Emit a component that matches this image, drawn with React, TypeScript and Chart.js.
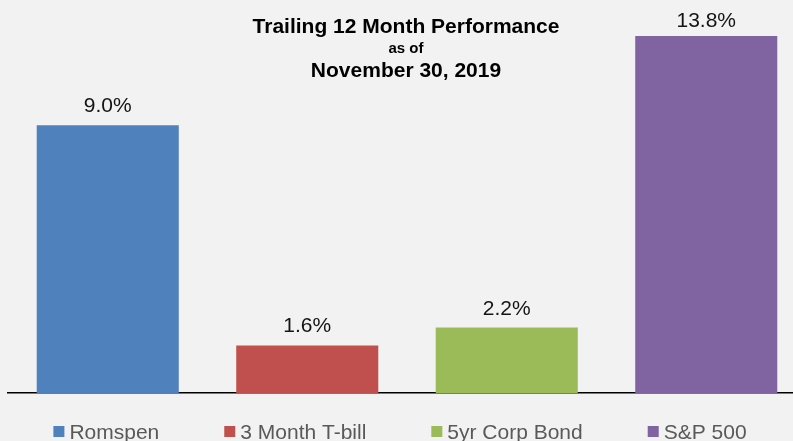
import React, { useEffect, useRef } from "react";
import { Chart, registerables } from "chart.js";

Chart.register(...registerables);

const categories = ["Romspen", "3 Month T-bill", "5yr Corp Bond", "S&P 500"];
const values = [9.0, 1.6, 2.2, 13.8];
const valueLabels = ["9.0%", "1.6%", "2.2%", "13.8%"];
const barColors = ["#4f81bd", "#c0504d", "#9bbb59", "#8064a2"];
const titleLines = ["Trailing 12 Month Performance", "as of", "November 30, 2019"];
const yMin = 0;
const yMax = 12;

const FONT = "'Liberation Sans', Arial, Helvetica, sans-serif";

const overlayPlugin = {
  id: "overlay",
  afterDatasetsDraw(chart: any) {
    const ctx = chart.ctx;
    const area = chart.chartArea;
    const meta = chart.getDatasetMeta(0);
    ctx.save();
    // value labels
    ctx.font = `21px ${FONT}`;
    ctx.fillStyle = "#141414";
    ctx.textAlign = "center";
    ctx.textBaseline = "alphabetic";
    meta.data.forEach((bar: any, i: number) => {
      const clipped = bar.y < area.top;
      const top = Math.max(bar.y, area.top);
      const off = clipped ? 9 : 13;
      ctx.fillText(valueLabels[i], bar.x, top - off);
    });
    // title
    const cx = (area.left + area.right) / 2 - 1;
    ctx.fillStyle = "#000";
    ctx.font = `bold 21px ${FONT}`;
    ctx.fillText(titleLines[0], cx, 33);
    ctx.font = `bold 15px ${FONT}`;
    ctx.fillText(titleLines[1], cx, 53);
    ctx.font = `bold 21px ${FONT}`;
    ctx.fillText(titleLines[2], cx, 77);
    // legend
    ctx.font = `21px ${FONT}`;
    const box = 11;
    const gapBT = 5;
    const gapItems = 65;
    const widths = categories.map((c) => ctx.measureText(c).width);
    const total =
      widths.reduce((a, w) => a + box + gapBT + w, 0) + gapItems * (categories.length - 1);
    let x = 400 - total / 2;
    ctx.textAlign = "left";
    categories.forEach((c, i) => {
      ctx.fillStyle = barColors[i];
      ctx.fillRect(x, 426, box, box);
      ctx.fillStyle = "#595959";
      ctx.fillText(c, x + box + gapBT, 439);
      x += box + gapBT + widths[i] + gapItems;
    });
    ctx.restore();
  },
};

export default function App() {
  const ref = useRef<HTMLCanvasElement | null>(null);

  useEffect(() => {
    document.body.style.margin = "0";
    document.body.style.background = "#f2f2f2";
    const canvas = ref.current;
    if (!canvas) return;
    const chart = new Chart(canvas, {
      type: "bar",
      data: {
        labels: categories,
        datasets: [
          {
            data: values,
            backgroundColor: barColors,
            borderWidth: 0,
            categoryPercentage: 1,
            barPercentage: 0.712,
          },
        ],
      },
      options: {
        responsive: false,
        animation: false,
        devicePixelRatio: 1,
        layout: { padding: { left: 8, right: 0, top: 36, bottom: 48 } },
        plugins: {
          legend: { display: false },
          title: { display: false },
          tooltip: { enabled: false },
        },
        scales: {
          x: {
            grid: { display: false, drawTicks: false },
            ticks: { display: false },
            border: { display: true, color: "#000", width: 1.5 },
          },
          y: {
            display: false,
            min: yMin,
            max: yMax,
          },
        },
      },
      plugins: [overlayPlugin],
    });
    return () => chart.destroy();
  }, []);

  return (
    <div
      style={{
        width: 793,
        height: 441,
        overflow: "hidden",
        background: "#f2f2f2",
        position: "relative",
      }}
    >
      <canvas ref={ref} width={806} height={441} style={{ display: "block" }} />
    </div>
  );
}
